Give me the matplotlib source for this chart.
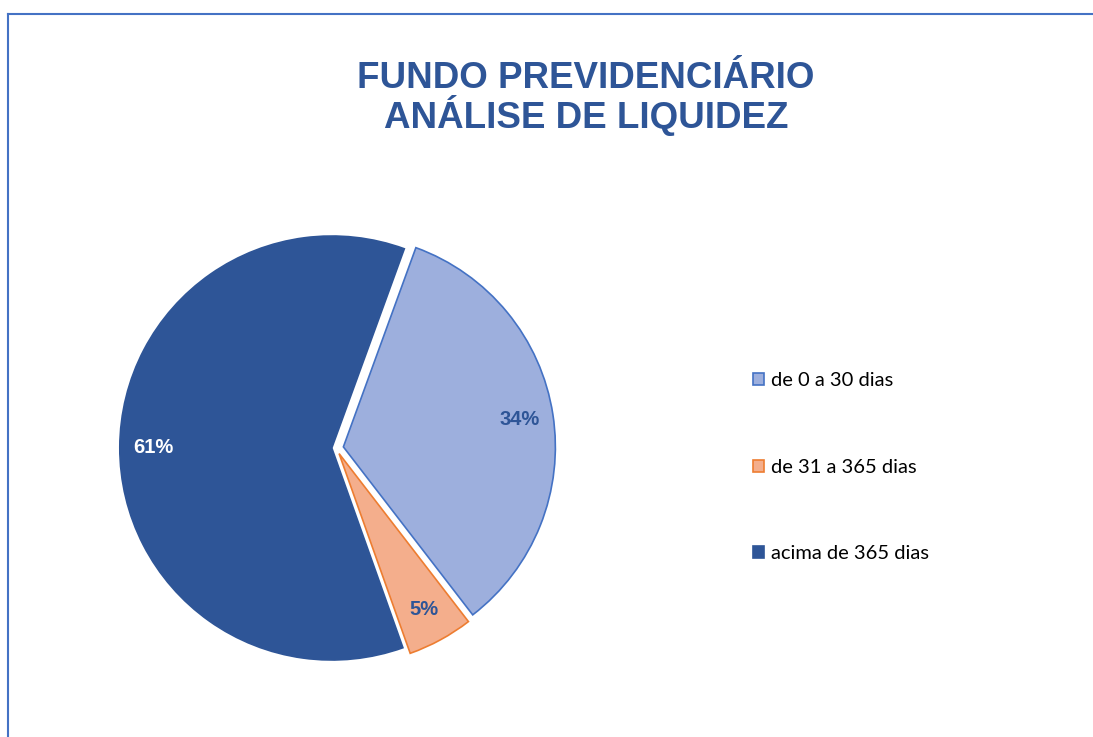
import matplotlib
matplotlib.use("Agg")
import matplotlib.pyplot as plt
from matplotlib.lines import Line2D

TITLE = "FUNDO PREVIDENCIÁRIO\nANÁLISE DE LIQUIDEZ"
CATEGORIES = ["de 0 a 30 dias", "de 31 a 365 dias", "acima de 365 dias"]
SHARES = [34, 5, 61]

FILL_COLORS = ["#9DAFDD", "#F4AE8C", "#2E5597"]
EDGE_COLORS = ["#4472C4", "#ED7D31", "#2E5597"]
LABEL_COLORS = ["#2E5597", "#2E5597", "#FFFFFF"]
EXPLODE = [0.035, 0.03, 0.02]


def main():
    plt.rcParams["font.family"] = ["Liberation Sans", "DejaVu Sans"]
    fig = plt.figure(figsize=(10.93, 7.37), dpi=100)

    # pie axes: center at ~(336, 448) px, radius ~212 px
    ax = fig.add_axes([0.0747, 0.0469, 0.4655, 0.6904])
    wedges, texts, autotexts = ax.pie(
        SHARES,
        startangle=70,
        counterclock=False,
        explode=EXPLODE,
        colors=FILL_COLORS,
        autopct="%1.0f%%",
        pctdistance=0.84,
        wedgeprops={"linewidth": 1.2},
    )
    for w, ec in zip(wedges, EDGE_COLORS):
        w.set_edgecolor(ec)
    for t, c in zip(autotexts, LABEL_COLORS):
        t.set_color(c)
        t.set_fontsize(14.5)
        t.set_fontweight("bold")
    ax.set_xlim(-1.2, 1.2)
    ax.set_ylim(-1.2, 1.2)
    ax.set_aspect("equal")
    ax.axis("off")

    fig.text(
        0.536,
        0.866,
        TITLE,
        ha="center",
        va="center",
        fontsize=26.5,
        fontweight="bold",
        color="#2E5597",
        linespacing=0.98,
    )

    fig.legend(
        wedges,
        CATEGORIES,
        loc="center left",
        bbox_to_anchor=(0.672, 0.366),
        frameon=False,
        prop={"family": "Lato", "size": 14.5},
        handlelength=0.55,
        handleheight=0.55,
        handletextpad=0.35,
        labelspacing=3.45,
    )

    # frame lines of the original chart box
    fig.add_artist(Line2D([0.0073, 0.0073], [0.0, 0.981], color="#4472C4", linewidth=1.5))
    fig.add_artist(Line2D([0.0073, 1.0], [0.981, 0.981], color="#4472C4", linewidth=1.5))

    fig.savefig("out.png", dpi=100)


if __name__ == "__main__":
    main()
